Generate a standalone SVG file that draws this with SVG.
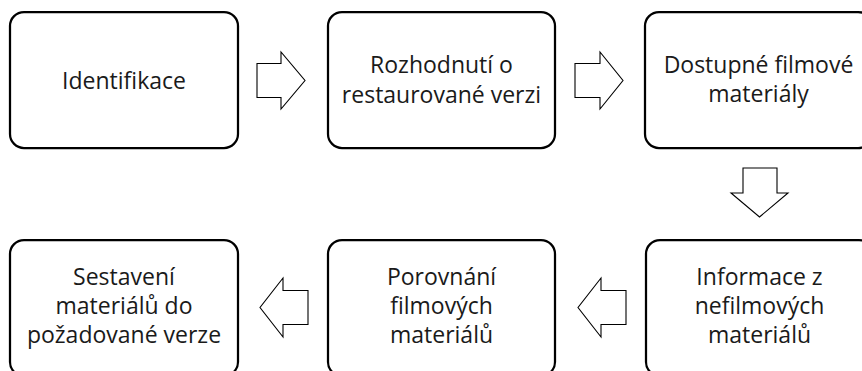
<svg xmlns="http://www.w3.org/2000/svg" width="862" height="371" viewBox="0 0 862 371">
<style>
.box{fill:#ffffff;stroke:#000000;stroke-width:2.25}
.arr{fill:#ffffff;stroke:#000000;stroke-width:1.1;stroke-linejoin:miter}
.t{font-family:"Open Sans","Noto Sans","Liberation Sans",sans-serif;font-size:23px;fill:#1a1a1a;text-anchor:middle}
</style>
<rect width="862" height="371" fill="#ffffff"/>
<g id="connectors">
<polygon class="arr" points="257,63.5 281,63.5 281,52 305,80.5 281,109 281,97.5 257,97.5"/>
<polygon class="arr" points="575,63.5 600,63.5 600,52 623,80.5 600,109 600,97.5 575,97.5"/>
<polygon class="arr" points="743,168 777,168 777,193 788,193 759.5,217 731,193 743,193"/>
<polygon class="arr" points="626,290.5 601,290.5 601,278 578,307.5 601,337 601,324.5 626,324.5"/>
<polygon class="arr" points="308,290.5 283,290.5 283,278 260,307.5 283,337 283,324.5 308,324.5"/>
</g>
<g id="n1">
<rect class="box" x="10" y="12" width="228" height="136" rx="14"/>
<text class="t" x="124" y="89">Identifikace</text>
</g>
<g id="n2">
<rect class="box" x="328" y="12" width="227" height="136" rx="14"/>
<text class="t" x="441.5" y="73">Rozhodnutí o</text>
<text class="t" x="441.5" y="103">restaurované verzi</text>
</g>
<g id="n3">
<rect class="box" x="645" y="12" width="227" height="136" rx="14"/>
<text class="t" x="758.5" y="73">Dostupné filmové</text>
<text class="t" x="758.5" y="102">materiály</text>
</g>
<g id="n4">
<rect class="box" x="646" y="240" width="227" height="136" rx="14"/>
<text class="t" x="759.5" y="285">Informace z</text>
<text class="t" x="759.5" y="314">nefilmových</text>
<text class="t" x="759.5" y="343">materiálů</text>
</g>
<g id="n5">
<rect class="box" x="328" y="240" width="227" height="136" rx="14"/>
<text class="t" x="441.5" y="285">Porovnání</text>
<text class="t" x="441.5" y="314">filmových</text>
<text class="t" x="441.5" y="343">materiálů</text>
</g>
<g id="n6">
<rect class="box" x="10" y="240" width="228" height="136" rx="14"/>
<text class="t" x="124" y="285">Sestavení</text>
<text class="t" x="124" y="314">materiálů do</text>
<text class="t" x="124" y="343">požadované verze</text>
</g>
</svg>
